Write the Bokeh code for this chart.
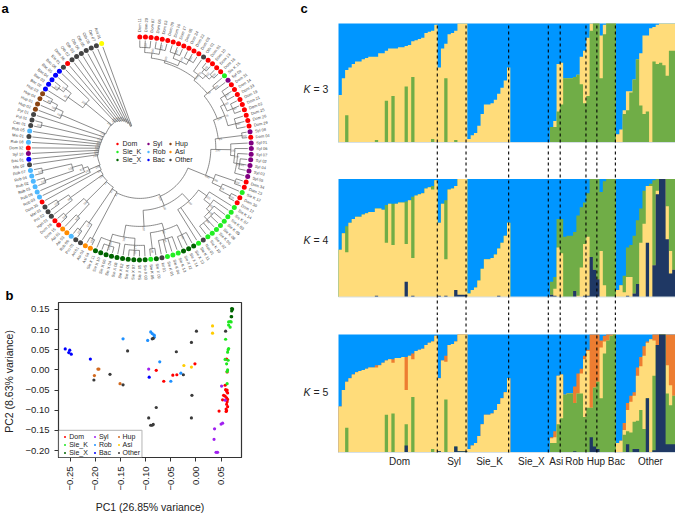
import math
from bokeh.plotting import figure
from bokeh.layouts import row, column
from bokeh.models import FixedTicker, Legend, LegendItem, Label, BoxAnnotation
from bokeh.embed import file_html
from bokeh.resources import INLINE
from bokeh.core.properties import value

FONT = "Liberation Sans"
# ---------- colours ----------
C_BLUE, C_YEL, C_GRN, C_NAVY, C_ORG = "#0096FF", "#FFDC7A", "#70AD47", "#1F3864", "#ED7D31"
TREE_COL = {"D": "#FF0000", "K": "#22EE22", "X": "#006400", "S": "#800080", "R": "#4DB8FF",
            "B": "#0000FF", "H": "#8B4513", "A": "#FF8C00", "O": "#444444", "Y": "#FFFF00"}
TREE_NAMES = {"D": "Dom", "K": "Sie_K", "X": "Sie_X", "S": "Syl", "R": "Rob", "B": "Bac",
              "H": "Hup", "A": "Asi", "O": "Other"}
# ---------- panel a: leaves, clockwise from the top ----------
leaf_groups = ("DDDDDDDDDDDD" "O" "DDDD" "K" "S" "DDDDDDDDD" "S" "D" "SSSSSSS" "DD" "K" "DD"
               "KKKKKKKK" "O" "K" "XXX" "KK" "K" "O" "X" "K" "XXXXXXXXXX" "AA" "OO" "R" "AA" "DD"
               "OOO" "D" "RRRRRR" "O" "B" "S" "D" "R" "O" "R" "OOO" "HHHH" "BBBBB" "O" "D" "OOOOOO" "Y")
leaf_labels = ["Dom 11", "Dom 20", "Dom 07", "Dom 06", "Dom 03", "Dom 09", "Dom 16", "Dom 17", "Dom 05", "Dom 24",
               "Dom 22", "Dom 08", "Oth 01", "Dom 01", "Dom 10", "Dom 13", "Dom 18", "Sie K 15", "Syl 09", "Dom 31",
               "Dom 14", "Dom 33", "Dom 19", "Dom 21", "Dom 02", "Dom 25", "Dom 26", "Dom 29", "Syl 08", "Dom 04",
               "Syl 01", "Syl 06", "Syl 07", "Syl 02", "Syl 04", "Syl 03", "Syl 05", "Dom 34", "Dom 23", "Sie K 12",
               "Dom 30", "Dom 12", "Sie K 14", "Sie K 07", "Sie K 03", "Sie K 09", "Sie K 08", "Sie K 06", "Sie K 02",
               "Sie K 10", "Nas 01", "Sie K 11", "Sie X 13", "Sie X 14", "Sie X 12", "Sie K 13", "Sie K 04", "Sie K 01",
               "Iol 01", "Sie X 09", "Sie K 05", "Sie X 03", "Sie X 05", "Sie X 07", "Sie X 01", "Sie X 02", "Sie X 08",
               "Sie X 04", "Sie X 06", "Sie X 10", "Sie X 11", "Asi 04", "Asi 02", "Ari 01", "Pro 01", "Rob 06", "Asi 03",
               "Asi 01", "Dom 15", "Dom 28", "Hph 01", "Pro 02", "Mal 01", "Dom 35", "Rob 03", "Rob 09", "Rob 01", "Rob 02",
               "Rob 04", "Rob 07", "Mic 02", "Bac 01", "Syl 10", "Dom 32", "Rob 08", "Mic 01", "Rob 05", "Can 01", "Pol 01",
               "Pyr 01", "Hup 02", "Hup 01", "Hup 04", "Hup 03", "Bac 02", "Bac 03", "Bac 04", "Bac 05", "Bac 06", "Ele 01",
               "Dom 36", "Oth 02", "Oth 03", "Oth 04", "Oth 05", "Oth 06", "Oth 07", "Ant 01"]
# clades: first leaf, last leaf, node radius, support
clades = [(0,117,24,100),(0,116,28,100),(0,115,30,92),(0,114,32,100),(0,113,33,87),(0,112,34,100),(0,111,35,95),
          (0,110,36,100),(0,109,36.5,78),(0,108,37,100),(104,108,70,100),(104,107,88,100),(105,107,95,97),(105,106,101,100),
          (0,103,38,100),(100,103,85,100),(101,103,93,100),(102,103,100,96),(0,99,38.5,71),(0,98,39,100),(97,98,101,100),
          (0,96,39.5,66),(0,95,40,84),(0,94,40.5,100),(0,93,41,58),(0,92,41.5,100),(0,91,42,62),(0,90,43,100),(0,89,44,100),
          (84,89,55,100),(85,89,60,97),(86,89,70,100),(86,87,100,100),(88,89,100,100),(0,83,45,51),(0,82,46,100),
          (80,82,85,98),(81,82,98,100),(0,79,47,74),(76,79,75,100),(76,77,92,100),(78,79,100,100),(0,75,49,100),
          (73,75,90,100),(74,75,101,100),(0,72,50,93),(71,72,102,100),(0,70,52,100),(42,70,62,100),(52,70,78,100),
          (52,60,85,82),(52,54,96,100),(55,58,94,91),(59,60,101,100),(61,70,90,100),(61,65,97,77),(62,64,102,100),
          (66,70,97,84),(67,69,102,100),(42,51,72,100),(42,49,82,100),(43,49,90,95),(44,49,94,100),(45,49,98,88),
          (0,41,71,100),(37,41,80,100),(37,38,101,100),(39,41,90,94),(40,41,102,100),(0,36,76,100),(30,36,91,100),
          (31,36,95,100),(32,36,98,97),(33,35,101,100),(0,29,79,85),(28,29,103,100),(0,27,83,100),(19,27,91,76),
          (19,24,95,100),(19,21,100,100),(22,24,101,90),(25,27,99,100),(0,18,87,69),(17,18,96,100),(0,16,89,100),
          (12,16,94,72),(13,16,98,100),(13,14,102,100),(15,16,102,100),(0,11,91,100),(0,5,96,100),(6,11,96,100),
          (0,2,101,100),(3,5,101,100),(6,8,101,100),(9,11,101,100)]
# ---------- panel b: PC1 / PC2 ----------
pc = {
 "Dom": ([-.079,-.064,-.046,-.038,-.002,.061,.062,.059,.061,.063,.062,.055,.058,.053,.061,.063,.062,.061,.063,.060,.061,.060,.046,.058],
         [-.001,-.028,-.013,-.012,.015,.027,-.005,-.049,-.053,-.057,-.050,-.063,-.065,-.074,-.069,-.073,-.079,-.085,-.091,-.097,-.101,-.103,-.102,-.038]),
 "Sie_K": ([.059,.065,.064,.063,.058,.064,.061,.063,.062,.062,.065,.068,.065,.068,.070],
           [.076,.053,.050,.044,.026,.024,.015,.0,-.004,-.034,.119,.120,.111,.106,.119]),
 "Sie_X": ([.071,.072,.071,.070,.071,.073],[.152,.149,.146,.132,.132,.151]),
 "Syl": ([.051,.058,.037,.050,.053,.036,.040,.043,-.094],[-.040,-.075,-.146,-.134,-.132,-.172,-.204,-.204,.002]),
 "Rob": ([-.145,-.090,-.087,-.083,-.083,-.096,-.072,-.030,-.050],[.077,.094,.090,.086,.081,.073,.020,-.008,-.028]),
 "Bac": ([-.260,-.251,-.253,-.248,-.210,-.093],[.052,.049,.043,.039,.027,-.018]),
 "Hup": ([-.195,-.193,-.202,-.151],[.002,.002,-.014,-.034]),
 "Asi": ([.033,.033,-.024,-.009],[.109,.091,.011,.007]),
 "Other": ([-.136,-.171,-.203,-.145,-.087,-.085,-.039,-.009,.001,.059,-.025,-.008,-.009,-.079,-.094,-.090,-.087,-.085],
           [.047,-.011,-.025,-.037,.077,.078,.045,.068,.096,.096,-.012,-.063,-.119,-.093,-.119,-.137,-.137,-.135]),
}
pc_colors = {"Dom": "#FF0000", "Sie_K": "#1EE81E", "Sie_X": "#006400", "Syl": "#A020F0", "Rob": "#1E90FF",
             "Bac": "#0000FF", "Hup": "#D2691E", "Asi": "#FFCC00", "Other": "#3A3A3A"}
pc_ticks_x = [-.25, -.20, -.15, -.10, -.05, 0, .05]
pc_ticks_y = [-.20, -.15, -.10, -.05, 0, .05, .10, .15]
# ---------- panel c: admixture, cumulative % per sample ----------
Z13 = [0]*13
Z12 = [0]*12
k3_top = [40,54,61,63,66,68,68,70,71,72,72,72,75,75,77,79,79,79,80,80,81,82,85,86,87,88,92,93,94,99,
          63,79,83,91,92,94,100,100,100, 3,6,8,14,24,32,32,33,36,41,46,52,63] + Z12 + [13,18,66,67,
          54,54,54,55,57,72,77,88, 100,100,100, 90,99,100,100,100,
          7,11,27,43,43,53,70,75,90,90,96,97,99,100,100,100,100,100]
k3_green = [0,0,23,0,0,0,0,0,0,0,0,2,0,0,35,0,39,0,0,0,47,0,55,0,0,0,0,0,3,0,
            0,0,54,0,0,2,0,0,0] + Z13 + Z12 + [13,13,26,32, 54,54,54,55,57,49,33,39, 94,100,100, 54,91,100,100,100,
            0,0,24,27,42,53,70,31,24,26,0,68,66,67,65,56,77,77]
sk = [3,6,8,14,24,32,32,33,36,41,46,52,63]
k4_top = [40,54,60,63,66,68,68,70,71,72,72,75,75,74,78,79,79,79,80,80,81,82,85,86,87,88,92,93,94,99,
          63,79,82,91,92,94,100,100,100] + sk + Z12 + [13,17,66,66, 51,52,52,55,69,76,80,88, 100,100,100, 89,98,100,100,100,
          6,10,18,42,44,52,65,75,90,94,96,99,100,100,100,100,100,100]
k4_yellow = [40,54,38,63,66,68,68,70,71,72,72,75,75,74,46,79,44,79,80,80,45,82,33,86,87,88,92,93,91,99,
             63,79,32,91,92,94,100,100,100] + sk + Z12 + [2,7,42,37, 0,0,0,5,1,25,45,51, 34,23,15, 39,10,0,0,0,
             6,10,4,17,17,3,11,46,62,94,94,27,90,100,100,77,39,23]
k4_navy = [0,0,0,0,0,0,0,0,0,0,0,1,0,0,0,0,0,0,0,0,13,0,1,0,0,0,0,0,0,0,
           1,0,1,0,0,6,2,2,2, 0,0,0,0,0,0,0,0,0,1,0,0,0] + Z12 + [2,1,0,0, 0,0,0,5,0,0,1,1, 34,23,15, 0,0,0,0,0,
           0,0,0,1,0,3,11,0,0,46,0,27,87,100,100,49,20,23]
sk5 = [3,6,8,14,24,32,32,33,36,41,46,51,63]
k5_top = [39,53,60,63,66,68,69,70,71,72,72,74,74,76,78,79,79,80,80,81,81,82,84,86,87,88,91,93,94,99,
          63,78,82,91,92,94,100,100,100] + sk5 + Z12 + [13,18,65,66, 49,50,50,56,67,71,82,87, 100,100,100, 95,99,100,100,100,
          8,10,25,42,48,51,72,81,90,94,96,100,100,100,100,100,100,100]
k5_yellow = [39,53,60,63,66,68,69,70,71,72,72,72,74,76,78,79,76,80,80,81,53,82,79,86,87,88,91,93,94,99,
             63,78,77,91,92,94,100,100,100] + sk5 + Z12 + [12,13,65,66, 49,50,50,42,50,67,79,86, 38,55,60, 89,94,95,99,100,
             8,10,19,36,43,48,65,73,82,93,96,95,91,100,100,74,57,48]
k5_green = [0,0,21,0,0,0,0,0,0,0,0,0,0,0,32,0,33,0,0,0,24,0,47,0,0,0,0,0,3,0,
            1,0,45,0,0,5,1,1,1] + Z13 + Z12 + [8,8,24,29, 49,50,50,42,50,50,30,38, 38,55,60, 46,84,95,99,100,
            0,0,15,18,17,26,27,36,20,46,0,65,91,100,100,50,40,48]
k5_navy = [0,0,0,0,0,0,0,0,0,0,0,0,0,0,0,0,0,0,0,0,6,0,0,0,0,0,0,0,0,0,
           1,0,0,0,0,5,1,1,1] + Z13 + Z12 + [0,0,0,0, 0,0,0,1,0,0,0,0, 13,5,3, 0,0,0,0,0,
           0,0,0,7,0,3,3,0,0,46,0,2,91,100,100,7,7,7]
pop_breaks = [29.9, 38.6, 51.5, 63.5, 67.1, 74.9, 78.2, 83.8]
pop_names = ["Dom", "Syl", "Sie_K", "Sie_X", "Asi", "Rob", "Hup", "Bac", "Other"]
pop_centers = [18.5, 35, 45.7, 58.4, 65.9, 71.4, 77.9, 84.1, 94.4]
N = len(k3_top)

# ---------- panel a ----------
R = 111.5
CX, CY = 139.3, 147.9
A_W, A_H = 298, 283
step = 340.0 / (len(leaf_groups) - 1)
def th(i): return math.radians(i * step)
def pol(r, t): return r * math.sin(t), r * math.cos(t)

pa = figure(width=A_W, height=A_H, x_range=(-CX, A_W - CX), y_range=(CY - A_H, CY), output_backend="svg",
            toolbar_location=None, min_border=0)
pa.axis.visible = False
pa.grid.visible = False
pa.outline_line_color = None

xs, ys, sx, sy, st, sa = [], [], [], [], [], []
def node(first, last, r, sup):
    kids = [c for c in clades if first <= c[0] and c[1] <= last and (c[0], c[1]) != (first, last)]
    top = [c for c in kids if not any((o[0] <= c[0] and c[1] <= o[1] and (o[0], o[1]) != (c[0], c[1])) for o in kids)]
    items = []
    i = first
    while i <= last:
        hit = [c for c in top if c[0] == i]
        if hit:
            items.append(("n", hit[0])); i = hit[0][1] + 1
        else:
            items.append(("l", i)); i += 1
    angs = []
    for kind, it in items:
        if kind == "l":
            a, rr = th(it), R - 3.5
        else:
            a, rr = node(*it), it[2]
        angs.append(a)
        x0, y0 = pol(r, a); x1, y1 = pol(rr, a)
        xs.append([x0, x1]); ys.append([y0, y1])
    a0, a1 = angs[0], angs[-1]
    n = max(2, int(abs(a1 - a0) * r / 2) + 2)
    arc = [pol(r, a0 + (a1 - a0) * k / (n - 1)) for k in range(n)]
    xs.append([p[0] for p in arc]); ys.append([p[1] for p in arc])
    # the backbone is ladderised: each of its nodes sits on its side branch
    m = a1 if (first == 0 and last >= 12) else (a0 + a1) / 2
    lx, ly = pol(r + 2, m)
    sx.append(lx); sy.append(ly); st.append(str(sup)); sa.append((90 - math.degrees(m)) % 360)
    return m
node(*clades[0])
pa.multi_line(xs, ys, line_color="#5A5A5A", line_width=0.7)
sa2 = [a if a <= 90 or a > 270 else a + 180 for a in sa]
pa.text(sx, sy, text=st, angle=sa2, angle_units="deg", text_font=value(FONT), text_font_size="3px",
        text_color="#666666", text_align="center", text_baseline="middle")

items = {}
for g, name in TREE_NAMES.items():
    idx = [i for i, c in enumerate(leaf_groups) if c == g]
    r_ = pa.scatter([pol(R, th(i))[0] for i in idx], [pol(R, th(i))[1] for i in idx], size=5,
                    fill_color=TREE_COL[g], line_color=None)
    items[name] = LegendItem(label=name, renderers=[r_])
iy = [i for i, c in enumerate(leaf_groups) if c == "Y"]
pa.scatter([pol(R, th(i))[0] for i in iy], [pol(R, th(i))[1] for i in iy], size=5, fill_color=TREE_COL["Y"], line_color=None)

right = [i for i in range(len(leaf_labels)) if i * step <= 180]
left = [i for i in range(len(leaf_labels)) if i * step > 180]
pa.text([pol(R + 5, th(i))[0] for i in right], [pol(R + 5, th(i))[1] for i in right], text=[leaf_labels[i] for i in right],
        angle=[90 - i * step for i in right], angle_units="deg", text_font=value(FONT), text_font_size="4px",
        text_color="#444444", text_align="left", text_baseline="middle")
pa.text([pol(R + 5, th(i))[0] for i in left], [pol(R + 5, th(i))[1] for i in left], text=[leaf_labels[i] for i in left],
        angle=[270 - i * step for i in left], angle_units="deg", text_font=value(FONT), text_font_size="4px",
        text_color="#444444", text_align="right", text_baseline="middle")
for cols, lx, so in ((["Dom", "Sie_K", "Sie_X"], 113.5, 3), (["Syl", "Rob", "Bac"], 144.7, 2), (["Hup", "Asi", "Other"], 167, 2)):
    pa.add_layout(Legend(items=[items[c] for c in cols], location=(lx, 120), orientation="vertical", background_fill_alpha=0,
                         border_line_color=None, margin=0, padding=0, spacing=1, glyph_width=6, glyph_height=7,
                         label_width=10, label_height=7, label_standoff=so, label_text_font=FONT, label_text_font_size="7px",
                         label_text_color="#222222"))
pa.add_layout(Label(x=-CX + 1, y=CY - 8, text="a", text_font=FONT, text_font_style="bold", text_font_size="13px",
                    text_baseline="middle", text_color="#000000", level="overlay"))

# ---------- panel b ----------
B_H = 515 - A_H
pb = figure(width=A_W, height=B_H, x_range=(-.2734, .0906), y_range=(-.2169, .167), output_backend="svg",
            toolbar_location=None, min_border_left=54, min_border_right=57, min_border_top=19, min_border_bottom=54,
            title="b")
pb.title.text_font = FONT
pb.title.text_font_style = "bold"
pb.title.text_font_size = "13px"
pb.title.text_color = "#000000"
pb.title.align = "left"
pb.title.offset = -53
pb.title.standoff = 0
pb.grid.visible = False
pb.outline_line_color = "#333333"
pb.outline_line_width = 1.2
ritems = {}
for name in ["Dom", "Sie_K", "Sie_X", "Syl", "Rob", "Bac", "Hup", "Asi", "Other"]:
    r_ = pb.scatter(pc[name][0], pc[name][1], size=3.2, fill_color=pc_colors[name], line_color=None)
    ritems[name] = LegendItem(label=name, renderers=[r_])
pb.add_layout(BoxAnnotation(left=-.2734, right=-.2734 + 85 / 512, bottom=-.2169, top=-.2169 + 27.7 / 413.4,
                            fill_color="#FFFFFF", fill_alpha=1, line_color="#333333", line_width=1.2))
for cols, lx in ((["Dom", "Sie_K", "Sie_X"], 4.2), (["Syl", "Rob", "Bac"], 33.9), (["Hup", "Asi", "Other"], 57.5)):
    pb.add_layout(Legend(items=[ritems[c] for c in cols], location=(lx, 1.5), orientation="vertical", background_fill_alpha=0,
                         border_line_color=None, margin=0, padding=0, spacing=1, glyph_width=5, glyph_height=7,
                         label_width=10, label_height=7, label_standoff=2, label_text_font=FONT, label_text_font_size="7px",
                         label_text_color="#222222"))
pb.xaxis.ticker = FixedTicker(ticks=pc_ticks_x)
pb.yaxis.ticker = FixedTicker(ticks=pc_ticks_y)
fmt = lambda v: ("\u2212%.2f" % abs(v)) if v < 0 else "%.2f" % v
pb.xaxis.major_label_overrides = {v: fmt(v) for v in pc_ticks_x}
pb.yaxis.major_label_overrides = {v: fmt(v) for v in pc_ticks_y}
pb.xaxis.major_label_orientation = math.pi / 2
for ax in [pb.xaxis, pb.yaxis]:
    ax.major_label_text_font = FONT
    ax.major_label_text_font_size = "9.5px"
    ax.major_label_text_color = "#222222"
    ax.major_tick_line_color = "#333333"
    ax.axis_line_color = "#333333"
    ax.major_tick_in = 0
    ax.major_tick_out = 4
    ax.minor_tick_line_color = None
    ax.axis_label_text_font = FONT
    ax.axis_label_text_font_size = "10.5px"
    ax.axis_label_text_font_style = "normal"
    ax.axis_label_text_color = "#222222"
    ax.axis_label_standoff = 7
pb.xaxis.axis_label = "PC1 (26.85% variance)"
pb.yaxis.axis_label = "PC2  (8.63% variance)"

# ---------- panel c ----------
C_W = 675 - A_W
C_LEFT = 40
PX = (675 - 338) / N
def kpanel(h, top_px, bottom_px, frame_top, frame_bottom, layers, k):
    scale = (bottom_px - top_px) / 100
    ylo = -(frame_bottom - bottom_px) / scale
    yhi = 100 + (top_px - frame_top) / scale
    p = figure(width=C_W, height=h, x_range=(-C_LEFT / PX, N), y_range=(ylo, yhi), output_backend="svg", toolbar_location=None,
               min_border=0)
    p.axis.visible = False
    p.grid.visible = False
    p.outline_line_color = None
    xe = list(range(N + 1))
    p.varea_step(x=xe, y1=[0] * (N + 1), y2=[100] * (N + 1), step_mode="after", fill_color=C_BLUE)
    for vals, col in layers:
        p.varea_step(x=xe, y1=[0] * (N + 1), y2=vals + [vals[-1]], step_mode="after", fill_color=col)
    p.segment(x0=[0], y0=[0], x1=[N], y1=[0], line_color="#D5DFE6", line_width=1)
    d_lo = 0 if k == 5 else ylo
    d_hi = 100 if k == 3 else yhi
    p.segment(x0=pop_breaks, y0=[d_lo] * 8, x1=pop_breaks, y1=[d_hi] * 8, line_color="#000000", line_width=1.1, line_dash="3 3")
    ym = (bottom_px - (top_px + bottom_px) / 2 - lab_dy[k]) / scale
    p.add_layout(Label(x=(303 - 338) / PX, y=ym, text="K", text_font=FONT, text_font_style="italic", text_font_size="10.5px",
                       text_baseline="middle", text_color="#222222"))
    p.add_layout(Label(x=(313 - 338) / PX, y=ym, text="= " + str(k), text_font=FONT, text_font_size="10.5px",
                       text_baseline="middle", text_color="#222222"))
    return p

lab_dy = {3: 5.5, 4: 1.5, 5: -2}
pc3 = kpanel(160, 23, 142, 0, 160, [(k3_top, C_YEL), (k3_green, C_GRN)], 3)
pc4 = kpanel(155, 178.5, 296.5, 160, 315, [(k4_top, C_GRN), (k4_yellow, C_YEL), (k4_navy, C_NAVY)], 4)
pc5 = kpanel(200, 334, 452, 315, 515, [(k5_top, C_ORG), (k5_yellow, C_YEL), (k5_green, C_GRN), (k5_navy, C_NAVY)], 5)
pc5.text(pop_centers, [-7.6] * len(pop_names), text=pop_names, text_font=value(FONT), text_font_size="10px", text_color="#222222",
         text_align="center", text_baseline="middle")
pc3.add_layout(Label(x=(300 - 338) / PX, y=100 + 15 / 1.19, text="c", text_font=FONT, text_font_style="bold", text_font_size="13px",
                     text_baseline="middle", text_color="#000000"))

layout = row(column(row(pa), row(pb)), column(pc3, pc4, pc5))
open("out.html", "w").write(file_html(layout, INLINE))
